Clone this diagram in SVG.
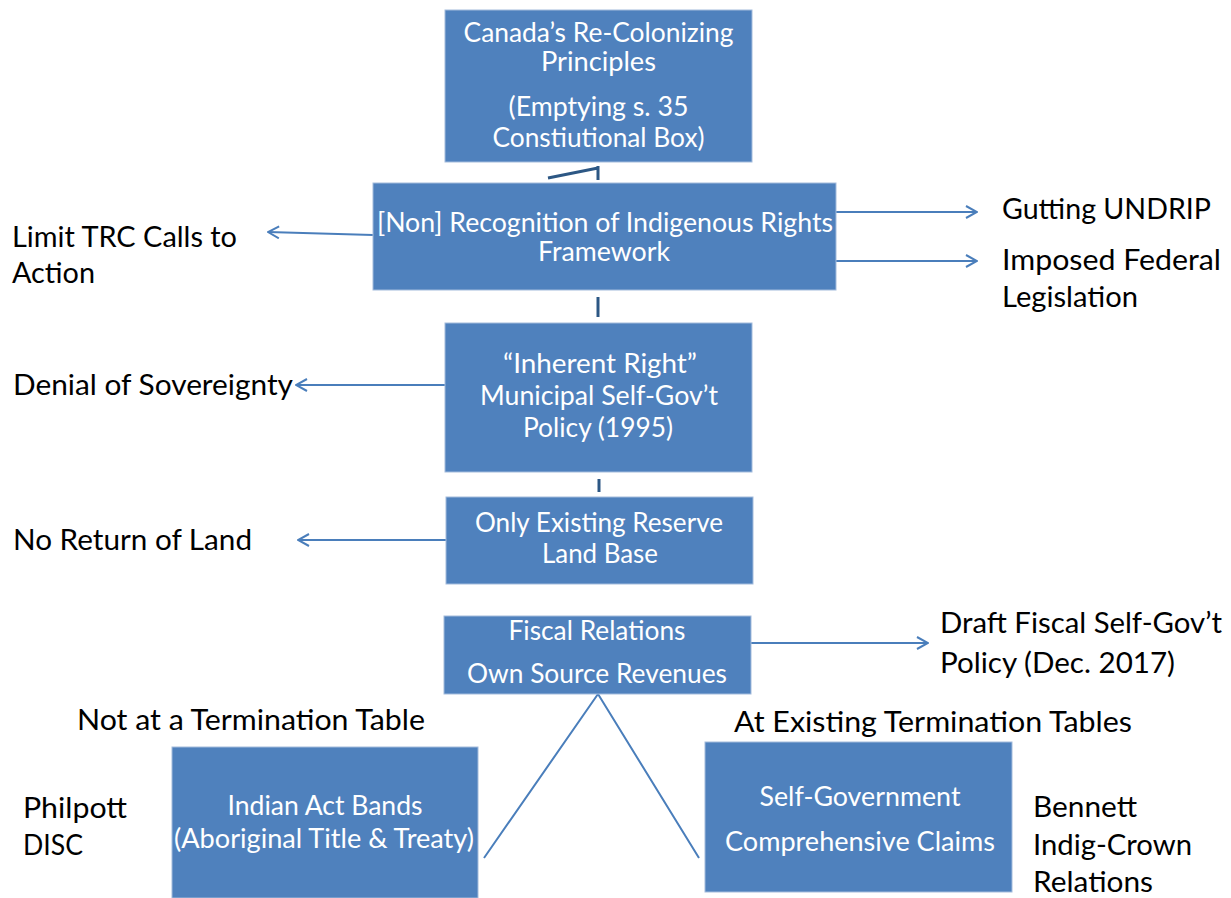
<svg xmlns="http://www.w3.org/2000/svg" width="1231" height="898" viewBox="0 0 1231 898">
<style>
.box{fill:#4f81bd;stroke:#a3bbdc;stroke-width:1}
.bt{font-family:Lato,"Open Sans","Liberation Sans",sans-serif;font-size:26px;fill:#ffffff;text-anchor:middle}
.ot{font-family:Lato,"Open Sans","Liberation Sans",sans-serif;font-size:29px;fill:#000000}
.arr{stroke:#4a7ebb;stroke-width:2;fill:none;marker-end:url(#ah)}
.ln{stroke:#4a7ebb;stroke-width:2;fill:none}
.dk{stroke:#2c5784;stroke-width:3;fill:none}
</style>
<defs>
<marker id="ah" markerUnits="userSpaceOnUse" markerWidth="14" markerHeight="14" viewBox="0 0 14 14" refX="13" refY="7" orient="auto">
<path d="M2,1 L13,7 L2,13" fill="none" stroke="#4a7ebb" stroke-width="2"/>
</marker>
</defs>
<rect width="1231" height="898" fill="#ffffff"/>
<g id="connectors">
<path class="dk" d="M548,178 L598,168 M598,166 V180"/>
<path class="dk" d="M598,297 V317"/>
<path class="dk" d="M599,479 V492"/>
<path class="arr" d="M373,235 L268,232"/>
<path class="arr" d="M836,212 H977"/>
<path class="arr" d="M836,261 H977"/>
<path class="arr" d="M445,385 H296"/>
<path class="arr" d="M446,540 H298"/>
<path class="arr" d="M751,643 H928"/>
<path class="ln" d="M598,694 L484,858 M598,694 L699,858"/>
</g>
<g id="n-principles">
<rect class="box" x="445" y="10" width="307" height="152"/>
<text class="bt" x="598.5" y="42" textLength="270" lengthAdjust="spacingAndGlyphs">Canada’s Re-Colonizing</text>
<text class="bt" x="598.5" y="71" textLength="115" lengthAdjust="spacingAndGlyphs">Principles</text>
<text class="bt" x="598.5" y="116" textLength="180" lengthAdjust="spacingAndGlyphs">(Emptying s. 35</text>
<text class="bt" x="598.5" y="147" textLength="212" lengthAdjust="spacingAndGlyphs">Constiutional Box)</text>
</g>
<g id="n-framework">
<rect class="box" x="373" y="183" width="463" height="107"/>
<text class="bt" x="605" y="232" textLength="456" lengthAdjust="spacingAndGlyphs">[Non] Recognition of Indigenous Rights</text>
<text class="bt" x="604" y="261" textLength="132" lengthAdjust="spacingAndGlyphs">Framework</text>
</g>
<g id="n-inherent">
<rect class="box" x="445" y="323" width="307" height="149"/>
<text class="bt" x="600" y="373" textLength="194" lengthAdjust="spacingAndGlyphs">“Inherent Right”</text>
<text class="bt" x="599" y="405" textLength="238" lengthAdjust="spacingAndGlyphs">Municipal Self-Gov’t</text>
<text class="bt" x="598" y="437" textLength="150" lengthAdjust="spacingAndGlyphs">Policy (1995)</text>
</g>
<g id="n-reserve">
<rect class="box" x="446" y="497" width="307" height="87"/>
<text class="bt" x="599" y="532" textLength="248" lengthAdjust="spacingAndGlyphs">Only Existing Reserve</text>
<text class="bt" x="600" y="563" textLength="116" lengthAdjust="spacingAndGlyphs">Land Base</text>
</g>
<g id="n-fiscal">
<rect class="box" x="444" y="616" width="307" height="78"/>
<text class="bt" x="597" y="640" textLength="177" lengthAdjust="spacingAndGlyphs">Fiscal Relations</text>
<text class="bt" x="597" y="683" textLength="260" lengthAdjust="spacingAndGlyphs">Own Source Revenues</text>
</g>
<g id="n-indian-act">
<rect class="box" x="172" y="747" width="306" height="151"/>
<text class="bt" x="325" y="815" textLength="195" lengthAdjust="spacingAndGlyphs">Indian Act Bands</text>
<text class="bt" x="324" y="848" textLength="300" lengthAdjust="spacingAndGlyphs">(Aboriginal Title &amp; Treaty)</text>
</g>
<g id="n-self-gov">
<rect class="box" x="705" y="742" width="307" height="150"/>
<text class="bt" x="860" y="806" textLength="201" lengthAdjust="spacingAndGlyphs">Self-Government</text>
<text class="bt" x="860" y="851" textLength="270" lengthAdjust="spacingAndGlyphs">Comprehensive Claims</text>
</g>
<g id="labels">
<text class="ot" x="12" y="247" textLength="225" lengthAdjust="spacingAndGlyphs">Limit TRC Calls to</text>
<text class="ot" x="12" y="283" textLength="83" lengthAdjust="spacingAndGlyphs">Action</text>
<text class="ot" x="1002" y="219" textLength="209" lengthAdjust="spacingAndGlyphs">Gutting UNDRIP</text>
<text class="ot" x="1002" y="270" textLength="219" lengthAdjust="spacingAndGlyphs">Imposed Federal</text>
<text class="ot" x="1002" y="307" textLength="136" lengthAdjust="spacingAndGlyphs">Legislation</text>
<text class="ot" x="13" y="395" textLength="280" lengthAdjust="spacingAndGlyphs">Denial of Sovereignty</text>
<text class="ot" x="13" y="550" textLength="239" lengthAdjust="spacingAndGlyphs">No Return of Land</text>
<text class="ot" x="940" y="633" textLength="282" lengthAdjust="spacingAndGlyphs">Draft Fiscal Self-Gov’t</text>
<text class="ot" x="940" y="673" textLength="235" lengthAdjust="spacingAndGlyphs">Policy (Dec. 2017)</text>
<text class="ot" x="77" y="730" textLength="348" lengthAdjust="spacingAndGlyphs">Not at a Termination Table</text>
<text class="ot" x="734" y="732" textLength="398" lengthAdjust="spacingAndGlyphs">At Existing Termination Tables</text>
<text class="ot" x="23" y="818" textLength="104" lengthAdjust="spacingAndGlyphs">Philpott</text>
<text class="ot" x="23" y="855" textLength="60" lengthAdjust="spacingAndGlyphs">DISC</text>
<text class="ot" x="1033" y="817" textLength="104" lengthAdjust="spacingAndGlyphs">Bennett</text>
<text class="ot" x="1033" y="855" textLength="159" lengthAdjust="spacingAndGlyphs">Indig-Crown</text>
<text class="ot" x="1033" y="892" textLength="120" lengthAdjust="spacingAndGlyphs">Relations</text>
</g>
</svg>
